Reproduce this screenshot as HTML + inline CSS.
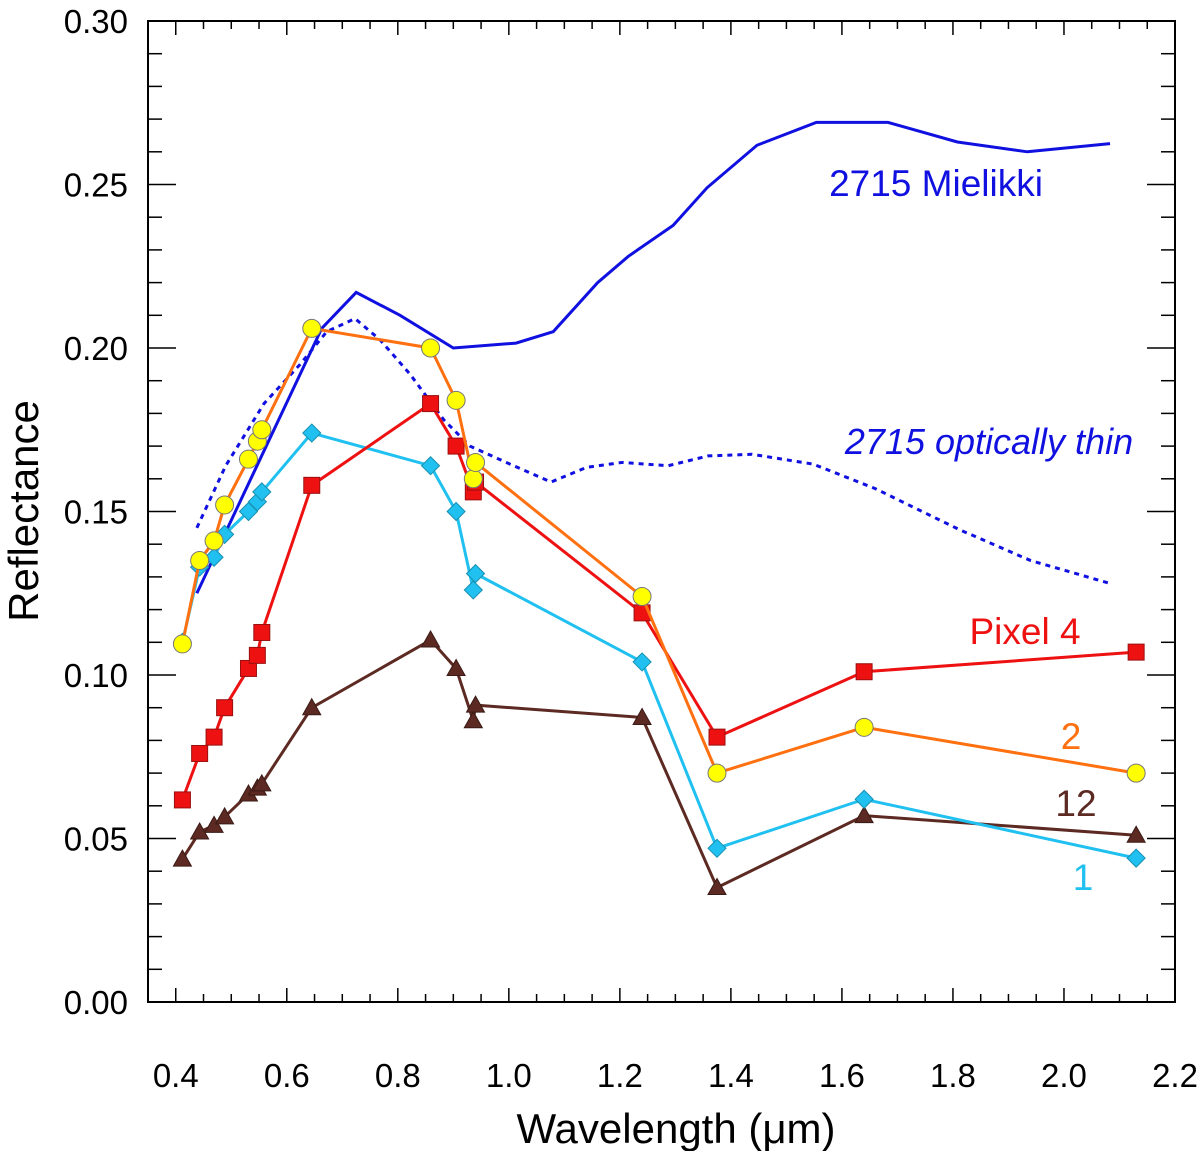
<!DOCTYPE html>
<html><head><meta charset="utf-8"><style>
body{margin:0;background:#fff}
svg{font-family:"Liberation Sans",Arial,sans-serif}
</style></head><body>
<svg id="chart" width="1200" height="1151" viewBox="0 0 1200 1151" xmlns="http://www.w3.org/2000/svg">
<g id="axes"></g><g id="series"></g>
<text x="936" y="196" font-size="37" fill="#1010e0" text-anchor="middle">2715 Mielikki</text>
<text x="989" y="454" font-size="36" font-style="italic" fill="#1010e0" text-anchor="middle">2715 optically thin</text>
<text x="1025" y="644" font-size="37" fill="#ee1111" text-anchor="middle">Pixel 4</text>
<text x="1071" y="749" font-size="37" fill="#ff7010" text-anchor="middle">2</text>
<text x="1076" y="816" font-size="37" fill="#5c2a22" text-anchor="middle">12</text>
<text x="1083" y="890" font-size="37" fill="#20c0f0" text-anchor="middle">1</text>
<text transform="translate(38,511) rotate(-90)" font-size="42" text-anchor="middle">Reflectance</text>
<text x="676" y="1143" font-size="42" text-anchor="middle">Wavelength (μm)</text>
</svg>
<script>
const mielikkiW=[0.438,0.663,0.725,0.804,0.90,1.013,1.08,1.16,1.215,1.296,1.357,1.447,1.554,1.683,1.808,1.934,2.083];
const mielikkiR=[0.125,0.206,0.217,0.210,0.200,0.2015,0.205,0.220,0.228,0.2375,0.249,0.262,0.269,0.269,0.263,0.260,0.2625];
const thinW=[0.438,0.49,0.559,0.624,0.672,0.723,0.768,0.822,0.883,0.93,1.002,1.076,1.14,1.204,1.287,1.359,1.438,1.548,1.66,1.811,1.94,2.083];
const thinR=[0.145,0.164,0.183,0.195,0.205,0.209,0.2025,0.192,0.178,0.170,0.1645,0.159,0.1635,0.165,0.164,0.167,0.1675,0.1645,0.157,0.1445,0.135,0.128];
const bands=[0.412,0.443,0.469,0.488,0.531,0.547,0.555,0.645,0.859,0.905,0.936,0.940,1.24,1.375,1.64,2.13];
const pixel1=[0.110,0.133,0.136,0.143,0.150,0.153,0.156,0.174,0.164,0.150,0.126,0.131,0.104,0.047,0.062,0.044];
const pixel12=[0.0437,0.052,0.054,0.0566,0.0636,0.0654,0.0667,0.090,0.1107,0.102,0.086,0.0908,0.087,0.035,0.057,0.051];
const pixel4=[0.0618,0.076,0.081,0.090,0.102,0.106,0.113,0.158,0.183,0.170,0.156,0.159,0.119,0.081,0.101,0.107];
const pixel2=[0.1095,0.135,0.141,0.152,0.166,0.1715,0.175,0.206,0.200,0.184,0.160,0.165,0.124,0.070,0.084,0.070];
const xTicks=["0.4","0.6","0.8","1.0","1.2","1.4","1.6","1.8","2.0","2.2"];
const yTicks=["0.00","0.05","0.10","0.15","0.20","0.25","0.30"];

const NS="http://www.w3.org/2000/svg";
const X0=148,X1=1175,Y0=1002,Y1=21;
const xs=w=>X0+(w-0.35)/(2.2-0.35)*(X1-X0);
const ys=v=>Y0-v/0.30*(Y0-Y1);
function mk(t,a,p){const e=document.createElementNS(NS,t);for(const k in a)e.setAttribute(k,a[k]);p.appendChild(e);return e;}
const ax=document.getElementById('axes'),se=document.getElementById('series');
const frame=mk('rect',{x:X0,y:Y1,width:X1-X0,height:Y0-Y1,fill:'none',stroke:'#000','stroke-width':2},ax);


for(let i=0;i<=37;i++){const w=0.35+i*0.05,x=xs(w),maj=(i%4==1),L=maj?14:8;
 mk('line',{x1:x,y1:Y0,x2:x,y2:Y0-L,stroke:'#000','stroke-width':1.5},ax);
 mk('line',{x1:x,y1:Y1,x2:x,y2:Y1+L,stroke:'#000','stroke-width':1.5},ax);}
xTicks.forEach(t=>{const e=mk('text',{x:xs(parseFloat(t)),y:1087,'font-size':33,'text-anchor':'middle'},ax);e.textContent=t;
 
 });
for(let i=0;i<=30;i++){const y=ys(i*0.01),maj=i%5==0,L=maj?28:14;
 mk('line',{x1:X0,y1:y,x2:X0+L,y2:y,stroke:'#000','stroke-width':1.5},ax);
 mk('line',{x1:X1,y1:y,x2:X1-L,y2:y,stroke:'#000','stroke-width':1.5},ax);}
yTicks.forEach(t=>{const e=mk('text',{x:128,y:ys(parseFloat(t))+12,'font-size':33,'text-anchor':'end'},ax);e.textContent=t;
 
 });
function line(W,R,col,name,dash){const p=mk('polyline',{points:W.map((w,i)=>xs(w)+','+ys(R[i])).join(' '),fill:'none',stroke:col,'stroke-width':3,'stroke-dasharray':dash||'none'},se);
 
 }
line(thinW,thinR,'#1010e0','line-optically-thin','5,5');
line(mielikkiW,mielikkiR,'#1010e0','line-mielikki');
function series(R,col,shape,name){line(bands,R,col,'line-'+name);
 bands.forEach((w,i)=>{const x=xs(w),y=ys(R[i]);let e;
  if(shape=='circle')e=mk('circle',{cx:x,cy:y,r:9,fill:'#ffff00',stroke:'#777','stroke-width':1},se);
  else if(shape=='square')e=mk('rect',{x:x-8,y:y-8,width:16,height:16,fill:'#ee1111',stroke:'#991111','stroke-width':1},se);
  else if(shape=='diamond')e=mk('polygon',{points:`${x},${y-9} ${x+9},${y} ${x},${y+9} ${x-9},${y}`,fill:'#20c0f0',stroke:'#1890b0','stroke-width':1},se);
  else e=mk('polygon',{points:`${x},${y-9} ${x+9},${y+7} ${x-9},${y+7}`,fill:'#5c2a22',stroke:'#3a1a15','stroke-width':1},se);
  
  });}
series(pixel12,'#5c2a22','tri','pixel-12');
series(pixel1,'#20c0f0','diamond','pixel-1');
series(pixel4,'#ee1111','square','pixel-4');
series(pixel2,'#ff7010','circle','pixel-2');
</script>
</body></html>
